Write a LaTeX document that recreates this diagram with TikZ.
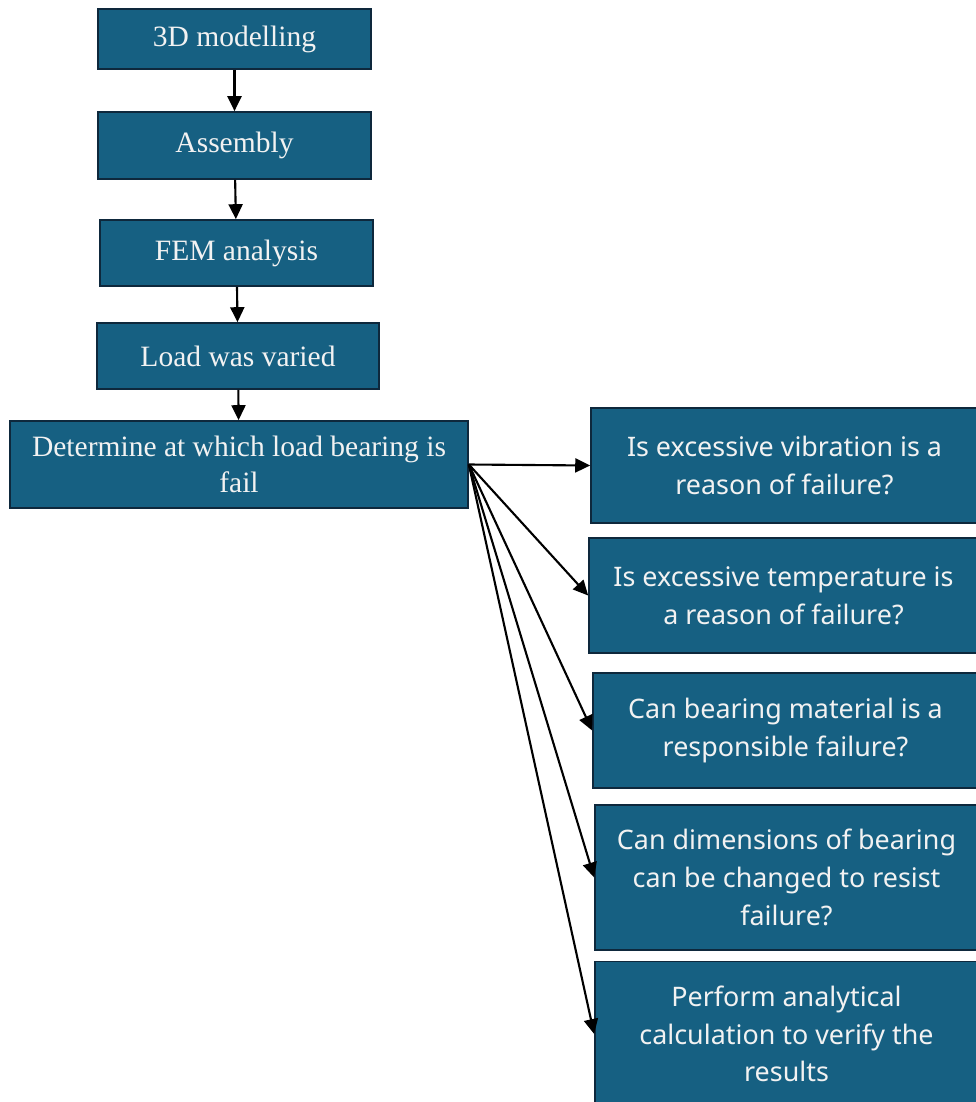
\documentclass[tikz,border=0pt]{standalone}
\usepackage{fontspec}
\setmainfont{Liberation Serif}
\newfontfamily\rightfont{Noto Sans}
\usetikzlibrary{arrows.meta}
\definecolor{boxblue}{RGB}{22,96,130}
\definecolor{boxedge}{RGB}{14,40,60}
\definecolor{boxtext}{RGB}{242,242,242}
\tikzset{
  stepbox/.style={shape=rectangle, draw=boxedge, fill=boxblue, line width=1pt,
    text=boxtext, align=center, inner sep=0pt,
    font=\fontsize{16.8}{20.4}\selectfont},
  askbox/.style={stepbox, font=\rightfont\fontsize{15.3}{21.5}\selectfont},
  flow/.style={-{Triangle[width=8pt,length=8.5pt]}, line width=1.2pt}
}
\begin{document}
\begin{tikzpicture}[x=0.02cm, y=-0.02cm]
     \useasboundingbox (0,0) rectangle (976,1102);
     \path (234.5, 39) node [stepbox, minimum width=5.46cm, minimum height=1.2cm] (model) {3D modelling}
           (234.5, 145.5) node [stepbox, minimum width=5.46cm, minimum height=1.34cm] (assy) {Assembly}
           (236.5, 253) node [stepbox, minimum width=5.46cm, minimum height=1.32cm] (fem) {FEM analysis}
           (238, 356) node [stepbox, minimum width=5.64cm, minimum height=1.32cm] (load) {Load was varied}
           (239, 464.5) node [stepbox, minimum width=9.16cm, minimum height=1.74cm] (det) {Determine at which load bearing is\\fail}
     ;
     \path (784.5, 465.5) node [askbox, minimum width=7.74cm, minimum height=2.3cm] (vib) {Is excessive vibration is a\\reason of failure?}
           (783.5, 595.5) node [askbox, minimum width=7.78cm, minimum height=2.3cm] (temp) {Is excessive temperature is\\a reason of failure?}
           (785.5, 730.5) node [askbox, minimum width=7.7cm, minimum height=2.3cm] (mat) {Can bearing material is a\\responsible failure?}
           (786.5, 877.5) node [askbox, minimum width=7.66cm, minimum height=2.9cm] (dim) {Can dimensions of bearing\\can be changed to resist\\failure?}
           (786.5, 1034) node [askbox, minimum width=7.66cm, minimum height=2.9cm] (calc) {Perform analytical\\calculation to verify the\\results}
     ;
     \draw [flow] (model) -- (assy);
     \draw [flow] (assy) -- (fem);
     \draw [flow] (fem) -- (load);
     \draw [flow] (load) -- (det);
     \foreach \q in {vib, temp, mat, dim, calc}
       \draw [flow] (det.east) -- (\q.west);
\end{tikzpicture}
\end{document}
